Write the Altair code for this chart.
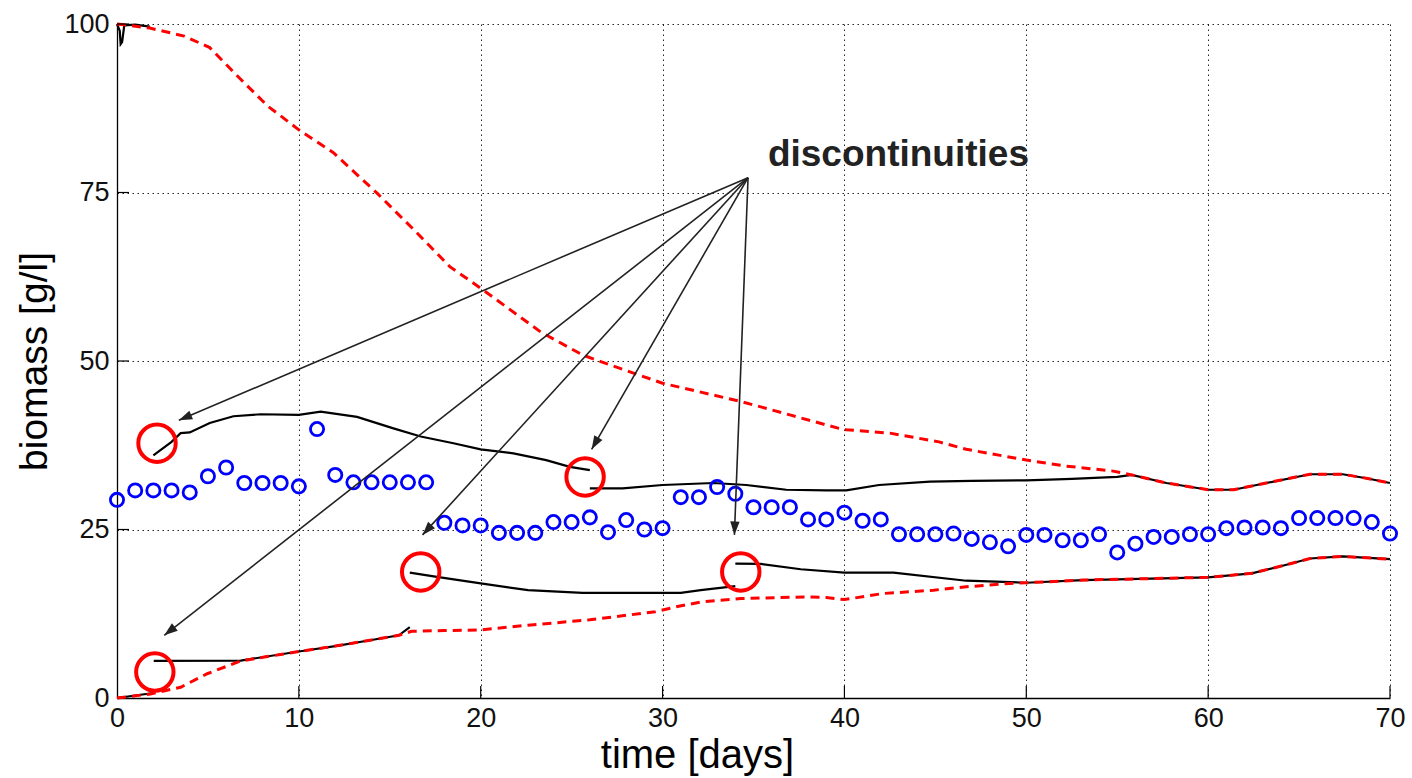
import math
import altair as alt
import pandas as pd

# ---------------- data ----------------
obs_day = list(range(71))
obs_biomass = [29.4, 30.8, 30.8, 30.8, 30.5, 32.9, 34.2, 31.9, 31.9, 31.9,
               31.4, 39.9, 33.1, 32.0, 32.0, 32.0, 32.0, 32.0, 26.0, 25.6,
               25.6, 24.5, 24.5, 24.5, 26.1, 26.1, 26.8, 24.6, 26.4, 25.0,
               25.2, 29.8, 29.8, 31.3, 30.3, 28.3, 28.3, 28.3, 26.5, 26.5,
               27.5, 26.3, 26.5, 24.3, 24.3, 24.3, 24.4, 23.6, 23.1, 22.5,
               24.2, 24.2, 23.4, 23.4, 24.3, 21.6, 22.9, 23.9, 23.9, 24.3,
               24.3, 25.2, 25.3, 25.3, 25.2, 26.7, 26.7, 26.7, 26.7, 26.1,
               24.4]

upper_bound_t = [0, 1.8, 3.7, 5.1, 6.8, 8.3, 10, 11.9, 14.3, 16.5, 18.3, 20,
                 23.3, 25.6, 26.6, 30.0, 34.3, 37.0, 39.7, 40.1, 42.5, 45.2,
                 46.7, 50, 52.2, 54.7, 55.8, 57.7, 60, 61.4, 63.2, 65.6, 67.4,
                 68.7, 70]
upper_bound_v = [100, 99.4, 98.2, 96.5, 91.8, 87.8, 84.3, 80.9, 74.9, 69.0,
                 64.0, 60.8, 54.3, 50.9, 49.9, 46.7, 44.0, 42.0, 40.0, 39.8,
                 39.3, 38.0, 36.9, 35.3, 34.4, 33.7, 33.1, 31.9, 30.9, 30.9,
                 31.9, 33.2, 33.2, 32.6, 31.9]

lower_bound_t = [0, 1.84, 3.5, 4.96, 6.8, 10, 12, 14, 15.5, 16.2, 18, 20,
                 22.6, 26, 29.6, 30.7, 32.1, 34.3, 37.8, 39, 40, 42.1, 44.9,
                 46.7, 49.1, 50, 53.1, 60, 62.4, 64.2, 65.6, 67.4, 70]
lower_bound_v = [0, 0.6, 1.6, 3.6, 5.5, 6.9, 7.7, 8.6, 9.3, 9.9, 10.0, 10.1,
                 10.8, 11.6, 12.8, 13.5, 14.25, 14.75, 15.0, 14.9, 14.6, 15.5,
                 16.0, 16.5, 17.0, 17.1, 17.5, 17.9, 18.5, 19.7, 20.7, 21.0,
                 20.6]

# simulated trajectories (black, discontinuous)
sim_a_t = [2.0, 3.0, 3.5, 4.0, 5.1, 6.4, 7.9, 10, 11.2, 13.2, 15.2, 16.7,
           18.5, 20, 21.8, 23.6, 24.9, 26.0]
sim_a_v = [36.0, 38.0, 39.3, 39.4, 40.8, 41.8, 42.1, 42.0, 42.5, 41.7, 40.0,
           38.8, 37.8, 36.9, 36.3, 35.3, 34.3, 33.8]
sim_b_t = [26.0, 27.8, 30, 32.8, 34.6, 36.8, 39, 40.1, 41.9, 44.7, 47, 50,
           52.5, 55, 55.8, 57.7, 60, 61.4, 63.2, 65.6, 67.4, 68.7, 70]
sim_b_v = [31.1, 31.1, 31.6, 31.9, 31.6, 30.9, 30.8, 30.8, 31.6, 32.1, 32.2,
           32.3, 32.5, 32.8, 33.1, 31.9, 30.9, 30.9, 31.9, 33.2, 33.2, 32.6,
           31.9]
sim_c_t = [2.02, 6.8, 10, 12, 14, 15.5, 16.1]
sim_c_v = [5.5, 5.55, 6.9, 7.7, 8.6, 9.3, 10.5]
sim_d_t = [16.1, 17.5, 20, 22.6, 25.6, 31, 32.1, 34.0]
sim_d_v = [18.6, 18.0, 17.0, 16.0, 15.6, 15.6, 16.0, 16.6]
sim_e_t = [34.0, 35.4, 37.6, 40, 42.7, 46.7, 50, 53.1, 60, 62.4, 64.2, 65.6,
           67.4, 70]
sim_e_v = [19.95, 19.9, 19.1, 18.6, 18.6, 17.4, 17.1, 17.5, 17.9, 18.5, 19.7,
           20.7, 21.0, 20.6]
sim_f_t = [0, 0.15, 0.2, 0.28, 0.4, 1.0, 1.8]
sim_f_v = [100, 99.0, 97.0, 97.3, 99.8, 99.9, 99.6]
sim_g_t = [0, 1.9]
sim_g_v = [0, 0.7]

# discontinuity markers (red circles)
circle_t = [2.2, 25.74, 16.7, 34.3, 2.08]
circle_v = [37.8, 32.8, 18.7, 18.7, 3.85]

# annotation
label_text = "discontinuities"
label_t, label_v = 42.97, 78.9
arrow_src_t, arrow_src_v = 34.7, 77.2
arrow_tip_t = [3.4, 26.1, 16.8, 2.6, 33.95]
arrow_tip_v = [41.2, 36.9, 24.2, 9.3, 24.2]

x_ticks = [0, 10, 20, 30, 40, 50, 60, 70]
y_ticks = [0, 25, 50, 75, 100]

# ---------------- layout ----------------
W, H = 1273, 674
X_MAX, Y_MAX = 70, 100
FONT = "Liberation Sans"

xs = alt.Scale(domain=[0, X_MAX], nice=False, zero=False)
ys = alt.Scale(domain=[0, Y_MAX], nice=False, zero=False)


def series_df(pairs):
    rows = []
    for name, ts, vs in pairs:
        for i, (t, v) in enumerate(zip(ts, vs)):
            rows.append({"series": name, "order": i, "t": t, "v": v})
    return pd.DataFrame(rows)


red_df = series_df([("upper", upper_bound_t, upper_bound_v),
                    ("lower", lower_bound_t, lower_bound_v)])
black_df = series_df([("a", sim_a_t, sim_a_v), ("b", sim_b_t, sim_b_v),
                      ("c", sim_c_t, sim_c_v), ("d", sim_d_t, sim_d_v),
                      ("e", sim_e_t, sim_e_v), ("f", sim_f_t, sim_f_v),
                      ("g", sim_g_t, sim_g_v)])
obs_df = pd.DataFrame({"t": obs_day, "v": obs_biomass})
circ_df = pd.DataFrame({"t": circle_t, "v": circle_v})

px_x = W / X_MAX
px_y = H / Y_MAX
angles = []
for tt, tv in zip(arrow_tip_t, arrow_tip_v):
    dx = (tt - arrow_src_t) * px_x
    dy = -(tv - arrow_src_v) * px_y  # screen, downwards positive
    ang = math.degrees(math.atan2(dx, -dy)) % 360
    angles.append(ang)
arrow_df = pd.DataFrame({"t": [arrow_src_t] * len(arrow_tip_t),
                         "v": [arrow_src_v] * len(arrow_tip_t),
                         "t2": arrow_tip_t, "v2": arrow_tip_v,
                         "angle": angles})
text_df = pd.DataFrame({"t": [label_t], "v": [label_v], "label": [label_text]})
xt_df = pd.DataFrame({"t": x_ticks[1:]})
yt_df = pd.DataFrame({"v": y_ticks[1:]})

x_axis = alt.Axis(values=x_ticks, grid=True, gridColor="black",
                  gridDash=[1.5, 3.5], gridWidth=1, gridOpacity=0.85,
                  domainColor="black", domainWidth=1.3, ticks=False,
                  labelFont=FONT, labelFontSize=27, labelColor="#111",
                  labelPadding=7, labelFlush=False,
                  title="time [days]", titleFont=FONT, titleFontSize=40,
                  titleFontWeight="normal", titleColor="black",
                  titleX=580, titleY=57, titleAlign="center",
                  titleBaseline="middle")
y_axis = alt.Axis(values=y_ticks, grid=True, gridColor="black",
                  gridDash=[1.5, 3.5], gridWidth=1, gridOpacity=0.85,
                  domainColor="black", domainWidth=1.3, ticks=False,
                  labelFont=FONT, labelFontSize=27, labelColor="#111",
                  labelPadding=8, labelFlush=False,
                  title="biomass [g/l]", titleFont=FONT, titleFontSize=39,
                  titleFontWeight="normal", titleColor="black",
                  titleAngle=270, titleX=-83, titleY=337,
                  titleAlign="center", titleBaseline="middle")

black_lines = alt.Chart(black_df).mark_line(
    color="black", strokeWidth=2.2, clip=False
).encode(
    x=alt.X("t:Q", scale=xs, axis=x_axis),
    y=alt.Y("v:Q", scale=ys, axis=y_axis),
    detail="series:N",
    order="order:Q",
)

red_lines = alt.Chart(red_df).mark_line(
    color="#ff0000", strokeWidth=3, strokeDash=[9, 6]
).encode(
    x=alt.X("t:Q", scale=xs),
    y=alt.Y("v:Q", scale=ys),
    detail="series:N",
    order="order:Q",
)

points = alt.Chart(obs_df).mark_point(
    shape="circle", filled=False, color="#0000ff", size=175, strokeWidth=2.8,
    opacity=1
).encode(x=alt.X("t:Q", scale=xs), y=alt.Y("v:Q", scale=ys))

circles = alt.Chart(circ_df).mark_point(
    shape="circle", filled=False, color="#ff0000", size=1400, strokeWidth=4,
    opacity=1
).encode(x=alt.X("t:Q", scale=xs), y=alt.Y("v:Q", scale=ys))

arrow_lines = alt.Chart(arrow_df).mark_rule(
    color="#222222", strokeWidth=1.6
).encode(
    x=alt.X("t:Q", scale=xs), y=alt.Y("v:Q", scale=ys),
    x2="t2:Q", y2="v2:Q",
)

arrow_heads = alt.Chart(arrow_df).mark_point(
    shape="M0,0L-0.7,2L0.7,2Z", filled=True, color="#222222", size=180,
    strokeWidth=0, opacity=1
).encode(
    x=alt.X("t2:Q", scale=xs), y=alt.Y("v2:Q", scale=ys),
    angle=alt.Angle("angle:Q", scale=None),
)

label = alt.Chart(text_df).mark_text(
    font=FONT, fontWeight="bold", fontSize=37, color="#222222",
    align="center", baseline="alphabetic"
).encode(x=alt.X("t:Q", scale=xs), y=alt.Y("v:Q", scale=ys), text="label:N")

x_ticks_in = alt.Chart(xt_df).mark_rule(color="black", strokeWidth=1.2).encode(
    x=alt.X("t:Q", scale=xs), y=alt.value(H), y2=alt.value(H - 12))
y_ticks_in = alt.Chart(yt_df).mark_rule(color="black", strokeWidth=1.2).encode(
    y=alt.Y("v:Q", scale=ys), x=alt.value(0), x2=alt.value(12))

chart = alt.layer(
    black_lines, red_lines, x_ticks_in, y_ticks_in, points, arrow_lines,
    arrow_heads, circles, label
).properties(
    width=W, height=H,
    autosize=alt.AutoSizeParams(type="none"),
    padding={"left": 117, "top": 24, "right": 22, "bottom": 80},
    background="white",
).configure_view(stroke=None)

chart.save("out.html", embed_options={"renderer": "svg", "actions": False})
